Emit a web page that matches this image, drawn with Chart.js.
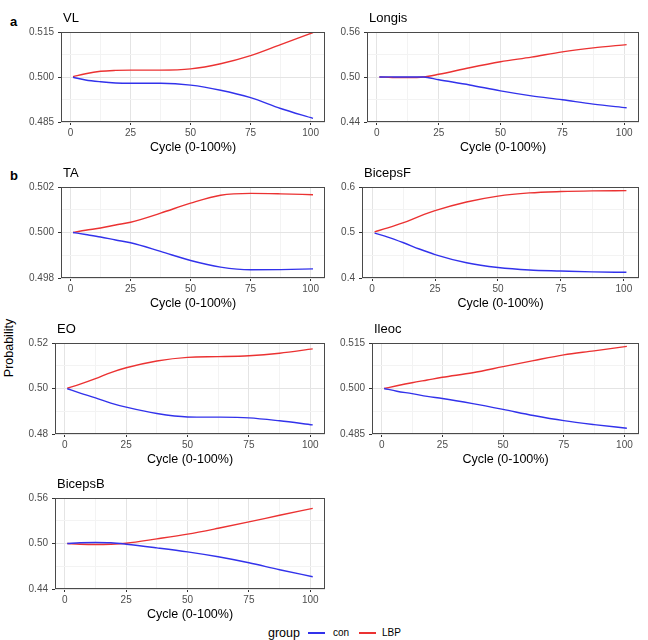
<!DOCTYPE html>
<html><head><meta charset="utf-8">
<script src="https://cdn.jsdelivr.net/npm/chart.js@4.4.1/dist/chart.umd.min.js"></script>
<style>
body{margin:0;background:#fff;width:648px;height:640px;position:relative;overflow:hidden;font-family:"Liberation Sans",Arial,sans-serif;}
canvas{position:absolute;}
.t{position:absolute;font-size:13px;color:#000;line-height:14px;white-space:nowrap}
.lab{position:absolute;font-size:13px;font-weight:bold;line-height:14px}
#ylab{position:absolute;font-size:12.5px;line-height:14px;white-space:nowrap;transform:translate(-50%,-50%) rotate(-90deg);left:9px;top:348px}
#legend{position:absolute;left:268px;top:625px;height:16px;font-size:10px;white-space:nowrap}
#legend span{position:absolute;top:0;line-height:16px}
#legend i{position:absolute;top:7px;height:1.5px;width:17px}
</style></head><body>
<div class="lab" style="left:10px;top:15px">a</div>
<div class="lab" style="left:10px;top:169px">b</div>
<div id="ylab">Probability</div>
<div id="legend">
  <span style="left:0;font-size:12.5px">group</span>
  <i style="left:40px;background:rgb(50,50,235)"></i>
  <span style="left:65px">con</span>
  <i style="left:91px;background:rgb(235,50,50)"></i>
  <span style="left:114px">LBP</span>
</div>
<script>
// ---- data ----
const cycle = [1,6.25,12.5,18.75,25,37.5,50,62.5,75,87.5,101];
const xTickLabels = ['0','25','50','75','100'];
const groups = ['con','LBP'];

const vlCon  = [0.4999,0.4990,0.4984,0.4980,0.4979,0.4979,0.4973,0.4956,0.4931,0.4895,0.4862];
const vlLbp  = [0.5001,0.5011,0.5019,0.5022,0.5023,0.5023,0.5027,0.5044,0.5071,0.5108,0.5148];
const vlY    = ['0.485','0.500','0.515'];

const longisCon = [0.5,0.5001,0.5001,0.5,0.4963,0.4894,0.4815,0.4749,0.4696,0.4638,0.4590];
const longisLbp = [0.5,0.4994,0.4993,0.5,0.5036,0.5124,0.5203,0.5265,0.5335,0.5388,0.5432];
const longisY   = ['0.44','0.50','0.56'];

const taCon = [0.5,0.49991,0.4998,0.49967,0.49955,0.49917,0.49877,0.49848,0.49836,0.49837,0.4984];
const taLbp = [0.5,0.50010,0.5002,0.50033,0.50045,0.50085,0.50129,0.50164,0.50172,0.50170,0.50166];
const taY   = ['0.498','0.500','0.502'];

const bicepsFCon = [0.4985,0.490,0.4775,0.4637,0.4515,0.4335,0.423,0.4175,0.4154,0.4135,0.4125];
const bicepsFLbp = [0.5015,0.510,0.5215,0.5355,0.548,0.567,0.580,0.587,0.590,0.5915,0.592];
const bicepsFY   = ['0.4','0.5','0.6'];

const eoCon = [0.4999,0.4980,0.4959,0.4936,0.4918,0.4890,0.4875,0.4874,0.4871,0.4858,0.4840];
const eoLbp = [0.5001,0.5019,0.5043,0.5070,0.5091,0.5121,0.5137,0.5140,0.5144,0.5155,0.5174];
const eoY   = ['0.48','0.50','0.52'];

const ileocCon = [0.5,0.4991,0.4983,0.4974,0.4967,0.4950,0.4931,0.4911,0.4894,0.4881,0.4869];
const ileocLbp = [0.5,0.5009,0.5019,0.5028,0.5037,0.5052,0.5072,0.5092,0.5111,0.5124,0.5139];
const ileocY   = ['0.485','0.500','0.515'];

const bicepsBCon = [0.5,0.5009,0.5013,0.5009,0.4991,0.4943,0.4890,0.4825,0.4746,0.4654,0.4562];
const bicepsBLbp = [0.5,0.4991,0.4987,0.4991,0.5004,0.5061,0.5123,0.5201,0.5285,0.5372,0.5464];
const bicepsBY   = ['0.44','0.50','0.56'];

// ---- layout (positions only) ----
const panels = [
  {title:'VL',      con:vlCon,      lbp:vlLbp,      y:vlY,      col:0, box:[61,32,325,122]},
  {title:'Longis',  con:longisCon,  lbp:longisLbp,  y:longisY,  col:1, box:[367,32,639,122]},
  {title:'TA',      con:taCon,      lbp:taLbp,      y:taY,      col:0, box:[61,187,325,278]},
  {title:'BicepsF', con:bicepsFCon, lbp:bicepsFLbp, y:bicepsFY, col:1, box:[362,187,639,278]},
  {title:'EO',      con:eoCon,      lbp:eoLbp,      y:eoY,      col:0, box:[55,343,325,434]},
  {title:'Ileoc',   con:ileocCon,   lbp:ileocLbp,   y:ileocY,   col:1, box:[372,343,639,434]},
  {title:'BicepsB', con:bicepsBCon, lbp:bicepsBLbp, y:bicepsBY, col:0, box:[55,498,325,589]}
];

const colors = {con:'rgb(50,50,235)', LBP:'rgb(235,50,50)'};
const majorGrid = '#e4e4e4', minorGrid = '#f3f3f3', tickCol = '#333';
Chart.defaults.font.family = '"Liberation Sans", Arial, sans-serif';

const borderPlugin = {
  id:'panelBorder',
  afterDraw(chart){
    const {ctx, chartArea:a} = chart;
    ctx.save();
    ctx.strokeStyle = '#4a4a4a'; ctx.lineWidth = 1;
    ctx.strokeRect(Math.round(a.left)+0.5, Math.round(a.top)+0.5, Math.round(a.right-a.left)-1, Math.round(a.bottom-a.top)-1);
    ctx.restore();
  }
};

function near(a,b){return Math.abs(a-b)<1e-9;}

panels.forEach(p=>{
  const [L,T,R,B] = p.box;
  const cx = p.col===0 ? 0 : 330, cw = p.col===0 ? 330 : 318;
  const cy = T-9, ch = B - cy + 33;
  const cv = document.createElement('canvas');
  cv.width = cw; cv.height = ch;
  cv.style.left = cx+'px'; cv.style.top = cy+'px';
  cv.style.width = cw+'px'; cv.style.height = ch+'px';
  document.body.appendChild(cv);

  const tt = document.createElement('div');
  tt.className = 't'; tt.textContent = p.title;
  tt.style.left = (L+2)+'px'; tt.style.top = (T-21)+'px';
  document.body.appendChild(tt);

  const xMaj = xTickLabels.map(Number);
  const xAll = [];
  for (let i=0;i<xMaj.length;i++){ xAll.push(xMaj[i]); if(i<xMaj.length-1) xAll.push((xMaj[i]+xMaj[i+1])/2); }
  const yMaj = p.y.map(Number);
  const yAll = [];
  for (let i=0;i<yMaj.length;i++){ yAll.push(yMaj[i]); if(i<yMaj.length-1) yAll.push((yMaj[i]+yMaj[i+1])/2); }
  const isXMaj = v => xMaj.some(m=>near(m,v));
  const yLab = v => { const i = yMaj.findIndex(m=>near(m,v)); return i>=0 ? p.y[i] : ''; };

  new Chart(cv, {
    type:'line',
    data:{ datasets:[
      {label:groups[0], data:cycle.map((x,i)=>({x, y:p.con[i]})), borderColor:colors.con, borderWidth:1.4, pointRadius:0, cubicInterpolationMode:'monotone', fill:false},
      {label:groups[1], data:cycle.map((x,i)=>({x, y:p.lbp[i]})), borderColor:colors.LBP, borderWidth:1.4, pointRadius:0, cubicInterpolationMode:'monotone', fill:false}
    ]},
    options:{
      responsive:false, animation:false, devicePixelRatio:1,
      layout:{padding:{left:0, top:T-cy, right:cx+cw-R, bottom:0}},
      plugins:{legend:{display:false}, tooltip:{enabled:false}},
      scales:{
        x:{
          type:'linear', min:-4, max:106,
          afterBuildTicks: s=>{ s.ticks = xAll.map(v=>({value:v})); },
          afterFit: s=>{ s.height = ch-(B-cy); s.paddingLeft=0; s.paddingRight=0; },
          ticks:{autoSkip:false, maxRotation:0, padding:2, color:'#4d4d4d', font:{size:10},
                 callback: v => isXMaj(v) ? String(v) : ''},
          grid:{color: c => (c.tick && isXMaj(c.tick.value)) ? majorGrid : minorGrid,
                tickColor: c => (c.tick && isXMaj(c.tick.value)) ? tickCol : 'rgba(0,0,0,0)',
                tickLength:3, lineWidth:1},
          border:{display:false},
          title:{display:true, text:'Cycle (0-100%)', color:'#000', font:{size:12.5}, padding:0}
        },
        y:{
          type:'linear', min:yMaj[0], max:yMaj[yMaj.length-1],
          afterBuildTicks: s=>{ s.ticks = yAll.map(v=>({value:v})); },
          afterFit: s=>{ s.width = L-cx; s.paddingTop=0; s.paddingBottom=0; },
          ticks:{autoSkip:false, padding:4, color:'#4d4d4d', font:{size:10}, callback: v => yLab(v)},
          grid:{color: c => (c.tick && yLab(c.tick.value)!=='') ? majorGrid : minorGrid,
                tickColor: c => (c.tick && yLab(c.tick.value)!=='') ? tickCol : 'rgba(0,0,0,0)',
                tickLength:3, lineWidth:1},
          border:{display:false}
        }
      }
    },
    plugins:[borderPlugin]
  });
});
</script>
</body></html>
